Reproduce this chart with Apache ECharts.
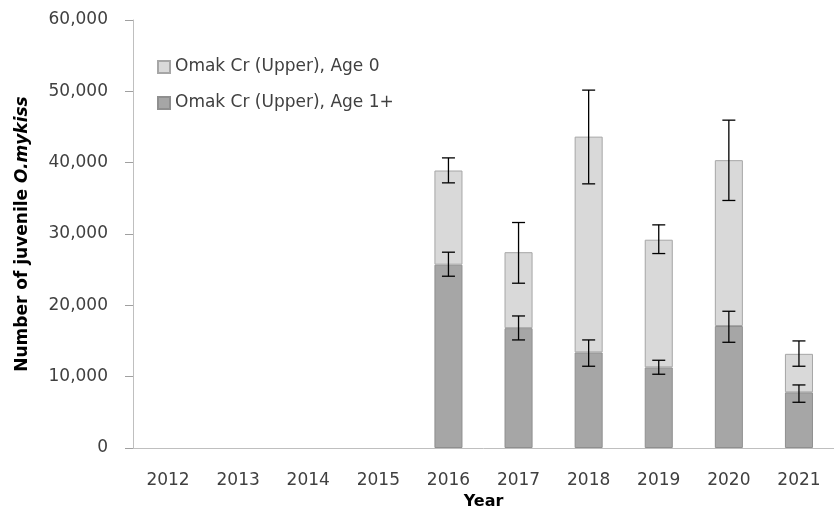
<!DOCTYPE html>
<html>
<head>
<meta charset="utf-8">
<script src="https://cdn.jsdelivr.net/npm/echarts@6/dist/echarts.min.js"></script>
<style>
  html, body { margin: 0; padding: 0; background: #fff; }
  #main { width: 834px; height: 507px; }
</style>
</head>
<body>
<div id="main"></div>
<script>
const years = ['2012', '2013', '2014', '2015', '2016', '2017', '2018', '2019', '2020', '2021'];
// stacked values (Age 1+ at the bottom, Age 0 on top)
const age1 = [null, null, null, null, 25700, 16800, 13400, 11300, 17100, 7800];
const age0 = [null, null, null, null, 13200, 10650, 30250, 17900, 23250, 5400];
// error bars [categoryIndex, low, high]
const errTotal = [[4, 37170, 40670], [5, 23100, 31610], [6, 37030, 50170], [7, 27260, 31280], [8, 34700, 45960], [9, 11460, 15010]];
const errAge1 = [[4, 24080, 27450], [5, 15150, 18510], [6, 11460, 15150], [7, 10340, 12300], [8, 14820, 19170], [9, 6410, 8840]];

const txt = '#404040';
const font = 'DejaVu Sans';

function errorBar(params, api) {
    const x = api.value(0);
    const lo = api.coord([x, api.value(1)]);
    const hi = api.coord([x, api.value(2)]);
    const cap = 6.5;
    const st = { stroke: '#000', lineWidth: 1.3 };
    return {
        type: 'group',
        children: [
            { type: 'line', shape: { x1: hi[0], y1: hi[1], x2: lo[0], y2: lo[1] }, style: st },
            { type: 'line', shape: { x1: hi[0] - cap, y1: hi[1], x2: hi[0] + cap, y2: hi[1] }, style: st },
            { type: 'line', shape: { x1: lo[0] - cap, y1: lo[1], x2: lo[0] + cap, y2: lo[1] }, style: st }
        ]
    };
}

const chart = echarts.init(document.getElementById('main'));
chart.setOption({
    animation: false,
    textStyle: { fontFamily: font },
    grid: { left: 133, right: 0, top: 20, bottom: 59, outerBoundsMode: 'none', containLabel: false },
    legend: {
        data: ['Omak Cr (Upper), Age 0', 'Omak Cr (Upper), Age 1+'],
        orient: 'vertical',
        left: 157,
        top: 57,
        padding: 0,
        icon: 'rect',
        itemWidth: 12,
        itemHeight: 12,
        itemGap: 16,
        textStyle: { fontSize: 17, color: txt, fontFamily: font, lineHeight: 20 }
    },
    xAxis: {
        type: 'category',
        data: years,
        name: 'Year',
        nameLocation: 'middle',
        nameGap: 37,
        nameTextStyle: { fontSize: 16, fontWeight: 'bold', color: '#000', fontFamily: font, padding: [0, 0, 0, 0] },
        axisLine: { lineStyle: { color: '#bfbfbf' } },
        axisTick: { length: 7, lineStyle: { color: '#a0a0a0' } },
        axisLabel: { fontSize: 17, color: txt, margin: 24 }
    },
    yAxis: {
        type: 'value',
        min: 0,
        max: 60000,
        interval: 10000,
        name: '{b|Number of juvenile }{bi|O.mykiss}',
        nameLocation: 'middle',
        nameGap: 102,
        nameRotate: 90,
        nameTextStyle: {
            rich: {
                b: { fontSize: 17, fontWeight: 'bold', color: '#000', fontFamily: font },
                bi: { fontSize: 17, fontWeight: 'bold', fontStyle: 'italic', color: '#000', fontFamily: font }
            }
        },
        axisLine: { show: true, lineStyle: { color: '#bfbfbf' } },
        axisTick: { show: true, length: 8, lineStyle: { color: '#a0a0a0' } },
        splitLine: { show: false },
        axisLabel: {
            fontSize: 17,
            color: txt,
            margin: 25,
            formatter: v => v.toLocaleString('en-US')
        }
    },
    series: [
        {
            name: 'Omak Cr (Upper), Age 1+',
            type: 'bar',
            stack: 'total',
            barWidth: '40%',
            data: age1,
            itemStyle: { color: '#a6a6a6', borderColor: '#8f8f8f', borderWidth: 1 }
        },
        {
            name: 'Omak Cr (Upper), Age 0',
            type: 'bar',
            stack: 'total',
            barWidth: '40%',
            data: age0,
            itemStyle: { color: '#d9d9d9', borderColor: '#a6a6a6', borderWidth: 1 }
        },
        {
            type: 'custom',
            renderItem: errorBar,
            data: errTotal,
            z: 10
        },
        {
            type: 'custom',
            renderItem: errorBar,
            data: errAge1,
            z: 10
        }
    ]
});
</script>
</body>
</html>
